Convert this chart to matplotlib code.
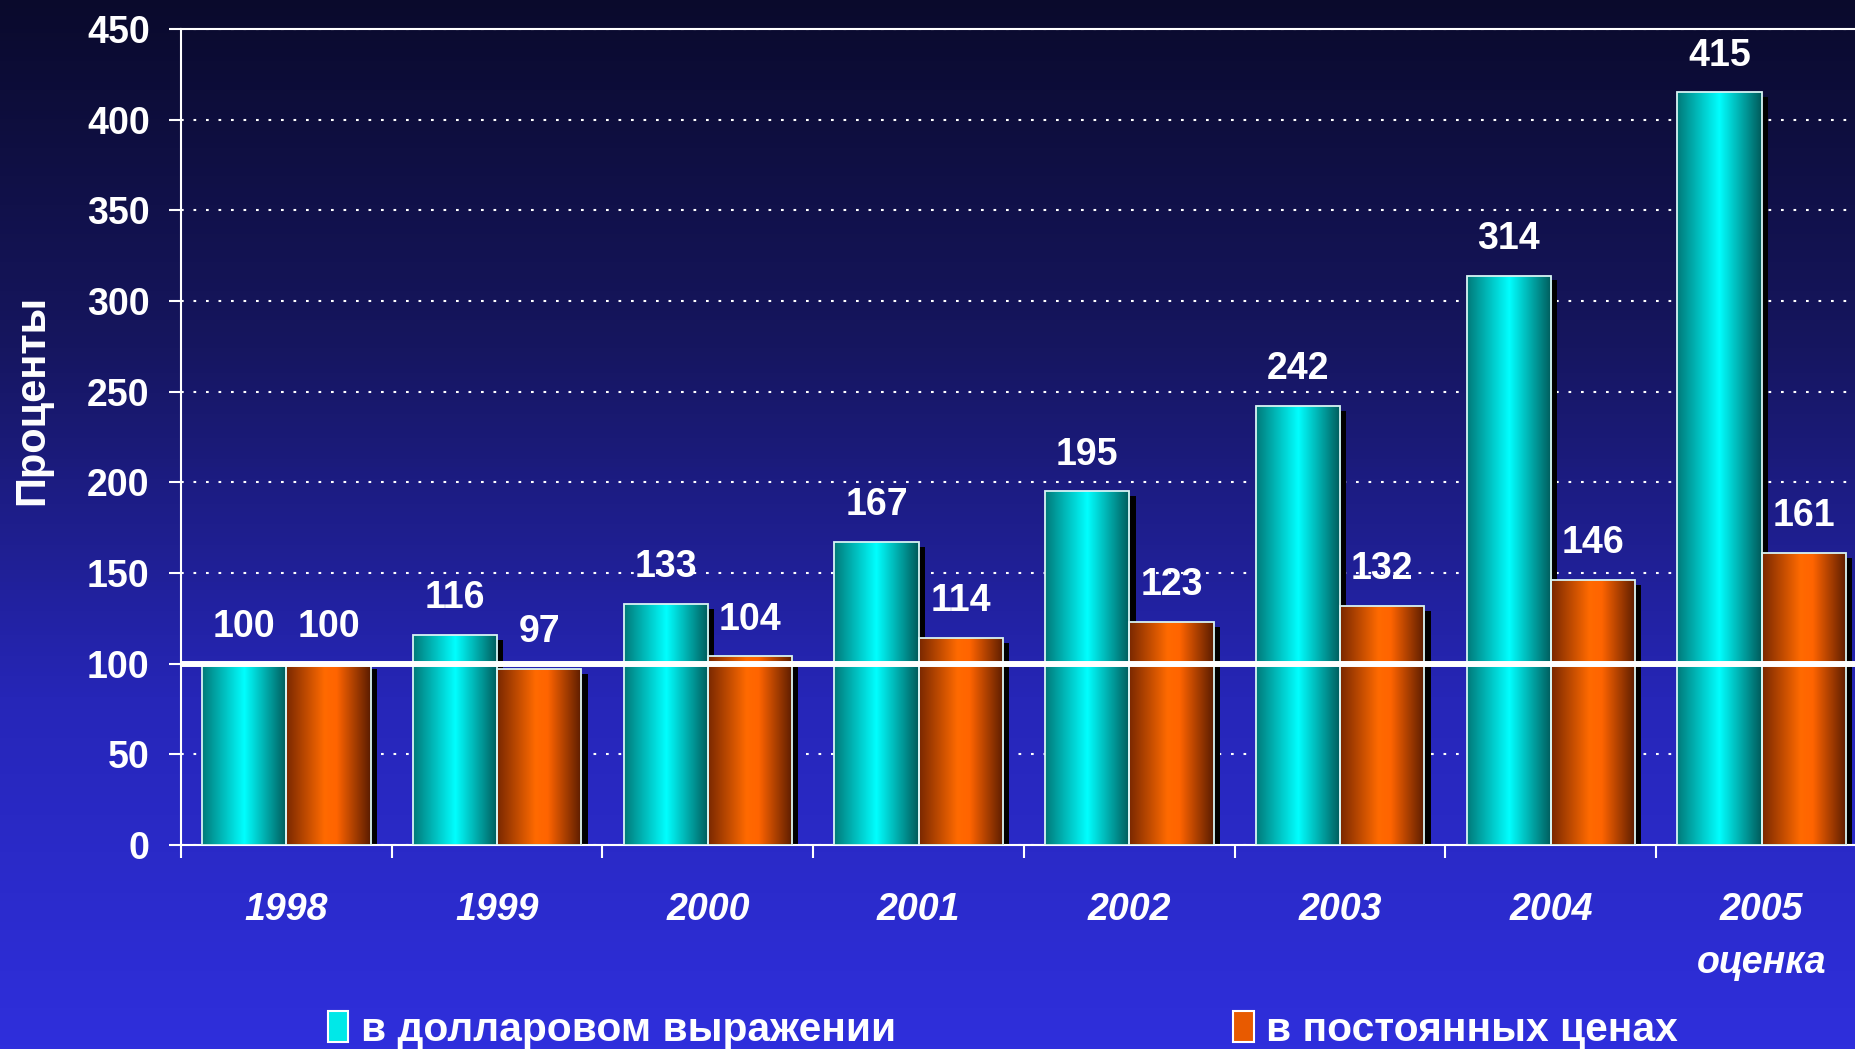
import numpy as np
import matplotlib
matplotlib.use('Agg')
from matplotlib import pyplot as plt
from matplotlib.colors import LinearSegmentedColormap
from matplotlib.patches import Rectangle
import matplotlib.patheffects as pe

plt.rcParams['font.family'] = ['Liberation Sans', 'DejaVu Sans']
plt.rcParams['font.weight'] = 'bold'

# data
years = ['1998', '1999', '2000', '2001', '2002', '2003', '2004', '2005\nоценка']
dollar = [100, 116, 133, 167, 195, 242, 314, 415]
const = [100, 97, 104, 114, 123, 132, 146, 161]
series_names = ['в долларовом выражении', 'в постоянных ценах']

cyan_cm = LinearSegmentedColormap.from_list('cy', [(0, '#007a7a'), (0.5, '#00ffff'), (1, '#005a5a')])
orange_cm = LinearSegmentedColormap.from_list('or', [(0, '#7a2800'), (0.45, '#ff6a00'), (0.6, '#ff6400'), (1, '#5a1c00')])

fig = plt.figure(figsize=(18.56, 10.49), dpi=100)

# background gradient
bg = fig.add_axes([0, 0, 1, 1], zorder=-10)
bg_cm = LinearSegmentedColormap.from_list('bg', ['#0a0a2c', '#161660', '#2626b8', '#2f2fdc'])
bg.imshow(np.linspace(0, 1, 256).reshape(-1, 1), aspect='auto', cmap=bg_cm, extent=[0, 1, 0, 1])
bg.axis('off')

ax = fig.add_axes([181/1856, 204/1049, 1686/1856, 816/1049])
ax.set_facecolor('none')

x = np.arange(len(years))
w = 0.4
grad = np.linspace(0, 1, 128).reshape(1, -1)

def gradient_bars(xpos, vals, cmap):
    bars = ax.bar(xpos, vals, w, color='black', zorder=2,
                  path_effects=[pe.SimplePatchShadow(offset=(4.5, -3.5), shadow_rgbFace='black', alpha=1), pe.Normal()])
    for b in bars:
        x0, bw, h = b.get_x(), b.get_width(), b.get_height()
        im = ax.imshow(grad, extent=[x0, x0 + bw, 0, h], aspect='auto', cmap=cmap, zorder=3)
        im.set_clip_path(b)
    ax.bar(xpos, vals, w, fill=False, edgecolor='#d8f4f4', linewidth=1.3, zorder=4)
    for xi, v in zip(xpos, vals):
        ax.annotate(str(v), (xi, v), xytext=(0, 26.5), textcoords='offset points',
                    ha='center', va='center', color='white', fontsize=27, fontweight='bold', zorder=6)

gradient_bars(x - w/2, dollar, cyan_cm)
gradient_bars(x + w/2, const, orange_cm)

# reference line at 100
ax.axhline(100, color='white', lw=4.3, zorder=5)

ax.set_xlim(-0.5, len(years) - 0.5)
ax.set_ylim(0, 450)
ax.set_yticks(np.arange(0, 451, 50))
ax.yaxis.grid(True, color='white', linestyle=(0, (1.3, 4.7)), lw=1.5)
ax.set_axisbelow(True)

for s in ['left', 'bottom', 'top']:
    ax.spines[s].set_color('white')
    ax.spines[s].set_linewidth(1.5)
ax.spines['right'].set_visible(False)

ax.tick_params(axis='y', colors='white', labelsize=27, length=9, width=1.5, pad=13.5)
ax.set_xticks(x)
ax.set_xticklabels(years, fontsize=27, fontstyle='italic', fontweight='bold', color='white')
for lbl in ax.get_xticklabels():
    lbl.set_linespacing(1.6)
ax.set_xticks(np.arange(-0.5, len(years), 1), minor=True)
ax.tick_params(axis='x', which='major', length=0, pad=34)
ax.tick_params(axis='x', which='minor', length=9, width=1.5, colors='white')
for lbl in ax.get_yticklabels():
    lbl.set_fontweight('bold')

fig.text(32/1856, 1 - 400/1049, 'Проценты', rotation=90, color='white', fontsize=30,
         fontweight='bold', ha='center', va='center')

handles = [Rectangle((0, 0), 1, 1, facecolor='#00e8e8', edgecolor='white', lw=1.5),
           Rectangle((0, 0), 1, 1, facecolor='#e85a00', edgecolor='white', lw=1.5)]
leg = fig.legend(handles, series_names, loc='center left', bbox_to_anchor=(328/1856, 1 - 1030/1049),
                 ncol=2, frameon=False, fontsize=29.3, handlelength=0.5, handleheight=0.8,
                 handletextpad=0.3, columnspacing=8.3, borderpad=0, borderaxespad=0)
for t in leg.get_texts():
    t.set_color('white')
    t.set_fontweight('bold')

fig.savefig('out.png', dpi=100)
